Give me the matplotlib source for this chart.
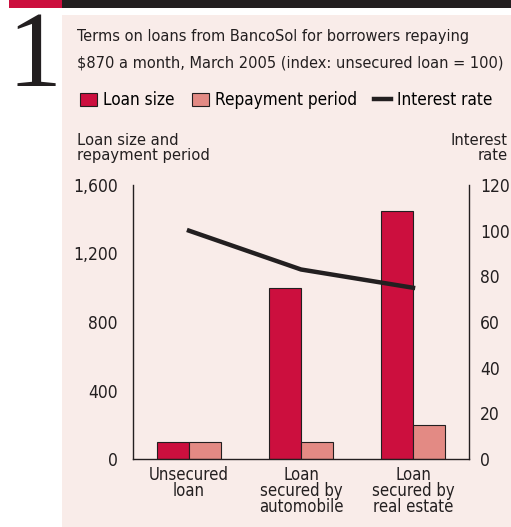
import matplotlib
matplotlib.use('Agg')
import matplotlib.pyplot as plt
from matplotlib.patches import Rectangle
import numpy as np

plt.rcParams['font.family'] = ['DejaVu Sans']
plt.rcParams['font.stretch'] = 'condensed'

# Data
categories = ['Unsecured\nloan', 'Loan\nsecured by\nautomobile', 'Loan\nsecured by\nreal estate']
loan_size = [100, 1000, 1450]
repayment_period = [100, 100, 200]
interest_rate = [100, 83, 75]
left_ticks = [0, 400, 800, 1200, 1600]
right_ticks = [0, 20, 40, 60, 80, 100, 120]

dark_red = '#cc0f3e'
light_red = '#e38a84'
panel = '#f9ece9'
ink = '#231f20'
fs = 11.5

fig = plt.figure(figsize=(5.11, 5.27), dpi=100)
fig.patch.set_facecolor('white')

# background panel and top strip
fig.patches.append(Rectangle((62/511, 0), 1 - 62/511, 1 - 15/527, transform=fig.transFigure,
                             facecolor=panel, edgecolor='none', zorder=-10))
fig.patches.append(Rectangle((9/511, 1 - 8/527), 53/511, 8/527, transform=fig.transFigure,
                             facecolor=dark_red, edgecolor='none'))
fig.patches.append(Rectangle((62/511, 1 - 8/527), 1 - 62/511, 8/527, transform=fig.transFigure,
                             facecolor=ink, edgecolor='none'))

fig.text(35/511, 1 - 60/527, '1', fontsize=78, family='Liberation Serif', color=ink,
         ha='center', va='center')

fig.text(77/511, 1 - 37/527, 'Terms on loans from BancoSol for borrowers repaying',
         fontsize=fs + 0.2, color=ink, va='center')
fig.text(77/511, 1 - 63/527, '$870 a month, March 2005 (index: unsecured loan = 100)',
         fontsize=fs + 0.2, color=ink, va='center')

ax = fig.add_axes([133/511, 68/527, 336/511, 274/527])
ax.set_facecolor('none')
x = np.arange(len(categories))
w = 0.29
ax.bar(x - w/2, loan_size, w, color=dark_red, edgecolor=ink, linewidth=0.8, label='Loan size')
ax.bar(x + w/2, repayment_period, w, color=light_red, edgecolor=ink, linewidth=0.8,
       label='Repayment period')
ax.set_xlim(-0.5, 2.5)
ax.set_ylim(0, 1600)
ax.set_yticks(left_ticks)
ax.set_yticklabels(['{:,}'.format(t) for t in left_ticks])
ax.set_xticks(x)
ax.set_xticklabels(categories, linespacing=0.85)
ax.tick_params(axis='x', length=0, labelsize=fs + 0.5, colors=ink, pad=5)
ax.tick_params(axis='y', length=0, labelsize=fs + 1, colors=ink, pad=11)
for s in ['top', 'right']:
    ax.spines[s].set_visible(False)
ax.spines['left'].set_color(ink)
ax.spines['bottom'].set_color(ink)
ax.spines['left'].set_linewidth(1)
ax.spines['bottom'].set_linewidth(1)

ax2 = ax.twinx()
ax2.plot(x, interest_rate, color=ink, linewidth=3.2, label='Interest rate')
ax2.set_ylim(0, 120)
ax2.set_yticks(right_ticks)
ax2.tick_params(length=0, labelsize=fs + 1, colors=ink, pad=8)
for s in ['top', 'left', 'bottom']:
    ax2.spines[s].set_visible(False)
ax2.spines['right'].set_color(ink)
ax2.spines['right'].set_linewidth(1)

h1, l1 = ax.get_legend_handles_labels()
h2, l2 = ax2.get_legend_handles_labels()
fig.legend(h1 + h2, l1 + l2, loc='center left', bbox_to_anchor=(80/511, 1 - 100/527),
           ncol=3, frameon=False, fontsize=fs + 0.8, handlelength=1.0, handleheight=0.8,
           handletextpad=0.35, columnspacing=1.0, borderpad=0, borderaxespad=0)

fig.text(77/511, 1 - 148/527, 'Loan size and\nrepayment period', fontsize=fs + 0.3, color=ink,
         va='center', linespacing=0.95)
fig.text(508/511, 1 - 148/527, 'Interest\nrate', fontsize=fs + 0.3, color=ink,
         va='center', ha='right', linespacing=0.95)

fig.savefig('out.png', dpi=100)
